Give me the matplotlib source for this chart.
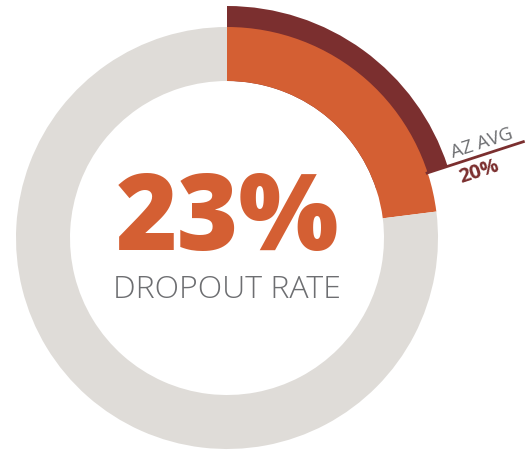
import matplotlib
matplotlib.use("Agg")
import matplotlib.pyplot as plt
import numpy as np

# data
dropout_rate = 23
az_avg = 20
main_label = "DROPOUT RATE"
avg_label = "AZ AVG"

ORANGE = "#d45f33"
DARK = "#7b2f2f"
GRAY = "#dfdcd8"
TEXT_GRAY = "#6d6e71"

W, H = 527, 451
fig = plt.figure(figsize=(W / 100, H / 100), dpi=100)
ax = fig.add_axes([0, 0, 1, 1])

cx, cy = 227, H - 238
R_out, R_in = 211, 157
R_avg = 232

# average arc (behind)
ax.pie([az_avg, 100 - az_avg], colors=[DARK, "none"], startangle=90, counterclock=False,
       radius=R_avg, center=(cx, cy), wedgeprops=dict(width=R_avg - R_in, linewidth=0))
# main ring
ax.pie([dropout_rate, 100 - dropout_rate], colors=[ORANGE, GRAY], startangle=90, counterclock=False,
       radius=R_out, center=(cx, cy), wedgeprops=dict(width=R_out - R_in, linewidth=0))

# average leader line
ang = np.deg2rad(90 - az_avg / 100 * 360)
r1, r2 = R_out - 2, 313
ax.plot([cx + r1 * np.cos(ang), cx + r2 * np.cos(ang)],
        [cy + r1 * np.sin(ang), cy + r2 * np.sin(ang)], color=DARK, lw=2.0, solid_capstyle="butt")
rot = np.rad2deg(ang)
ax.text(482, H - 143, avg_label, rotation=rot, rotation_mode="anchor", ha="center", va="center",
        fontsize=13.5, color=TEXT_GRAY, family="Open Sans")
ax.text(479, H - 172, f"{az_avg}%", rotation=rot, rotation_mode="anchor", ha="center", va="center",
        fontsize=14.5, color=DARK, family="Open Sans", fontweight="bold")

ax.text(cx, H - 250, f"{dropout_rate}%", ha="center", va="baseline", fontsize=76,
        color=ORANGE, family="Open Sans", fontweight="heavy")
ax.text(cx, H - 298, main_label, ha="center", va="baseline", fontsize=23,
        color=TEXT_GRAY, family="Open Sans", fontweight="light")

ax.set_xlim(0, W)
ax.set_ylim(0, H)
ax.set_aspect("auto")
ax.axis("off")
fig.savefig("out.png", dpi=100)
